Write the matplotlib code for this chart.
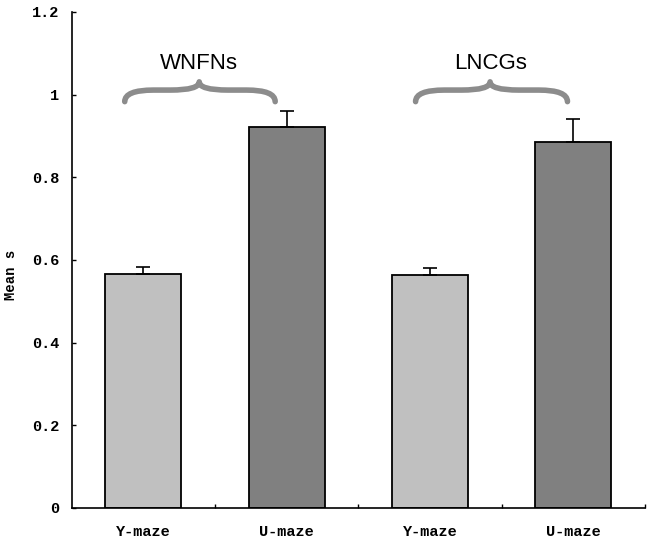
import matplotlib

matplotlib.use("Agg")
import matplotlib.pyplot as plt
from matplotlib.path import Path
from matplotlib.patches import PathPatch

categories = ["Y-maze", "U-maze", "Y-maze", "U-maze"]
means = [0.567, 0.921, 0.563, 0.886]
errors = [0.017, 0.040, 0.018, 0.055]
bar_colors = ["#c0c0c0", "#808080", "#c0c0c0", "#808080"]
groups = ["WNFNs", "LNCGs"]
# brace spans (x0, x1, tip x) in data units
brace_spans = [(-0.13, 0.92, 0.39), (1.90, 2.96, 2.42)]

MONO = "Liberation Mono"


def draw_brace(ax, x0, x1, xt, y0, y1, yt, color="#8c8c8c"):
    w = 0.2
    verts = [
        (x0, y0), (x0, y1), (x0 + w, y1),
        (xt - w, y1), (xt, y1), (xt, yt),
        (xt, y1), (xt + w, y1),
        (x1 - w, y1), (x1, y1), (x1, y0),
    ]
    codes = [
        Path.MOVETO, Path.CURVE3, Path.CURVE3,
        Path.LINETO, Path.CURVE3, Path.CURVE3,
        Path.CURVE3, Path.CURVE3,
        Path.LINETO, Path.CURVE3, Path.CURVE3,
    ]
    ax.add_patch(PathPatch(Path(verts, codes), fill=False, edgecolor=color,
                           linewidth=4, capstyle="round", joinstyle="round"))


fig = plt.figure(figsize=(6.52, 5.43), dpi=100)
ax = fig.add_axes([0.110, 0.0645, 0.879, 0.9135])

x = list(range(len(categories)))
ax.bar(x, means, width=0.53, color=bar_colors, edgecolor="black", linewidth=1.3,
       yerr=[[0] * len(errors), errors], capsize=5,
       error_kw={"elinewidth": 1.2, "capthick": 1.2, "ecolor": "black"})

for (x0, x1, xt), name in zip(brace_spans, groups):
    draw_brace(ax, x0, x1, xt, 0.983, 1.011, 1.031)
    ax.text(xt, 1.075, name, ha="center", va="center", fontsize=16,
            family="Liberation Sans")

ax.set_xlim(-0.5, 3.5)
ax.set_ylim(0, 1.2)
ax.set_yticks([0, 0.2, 0.4, 0.6, 0.8, 1.0, 1.2])
ax.set_yticklabels(["0", "0.2", "0.4", "0.6", "0.8", "1", "1.2"],
                   family=MONO, fontsize=11, weight="bold")
ax.set_xticks(x)
ax.set_xticklabels(categories, family=MONO, fontsize=11, weight="bold")
ax.set_xticks([0.5, 1.5, 2.5, 3.5], minor=True)
ax.tick_params(axis="x", which="major", length=0, pad=12)
ax.tick_params(axis="x", which="minor", direction="in", length=3, width=1)
ax.tick_params(axis="y", direction="in", length=3, width=1, pad=9)
ax.set_ylabel("Mean s", family=MONO, fontsize=10, weight="bold")
ax.yaxis.set_label_coords(-0.093, 0.47)

for side in ["top", "right"]:
    ax.spines[side].set_visible(False)
for side in ["left", "bottom"]:
    ax.spines[side].set_linewidth(1.2)

fig.savefig("out.png", dpi=100)
